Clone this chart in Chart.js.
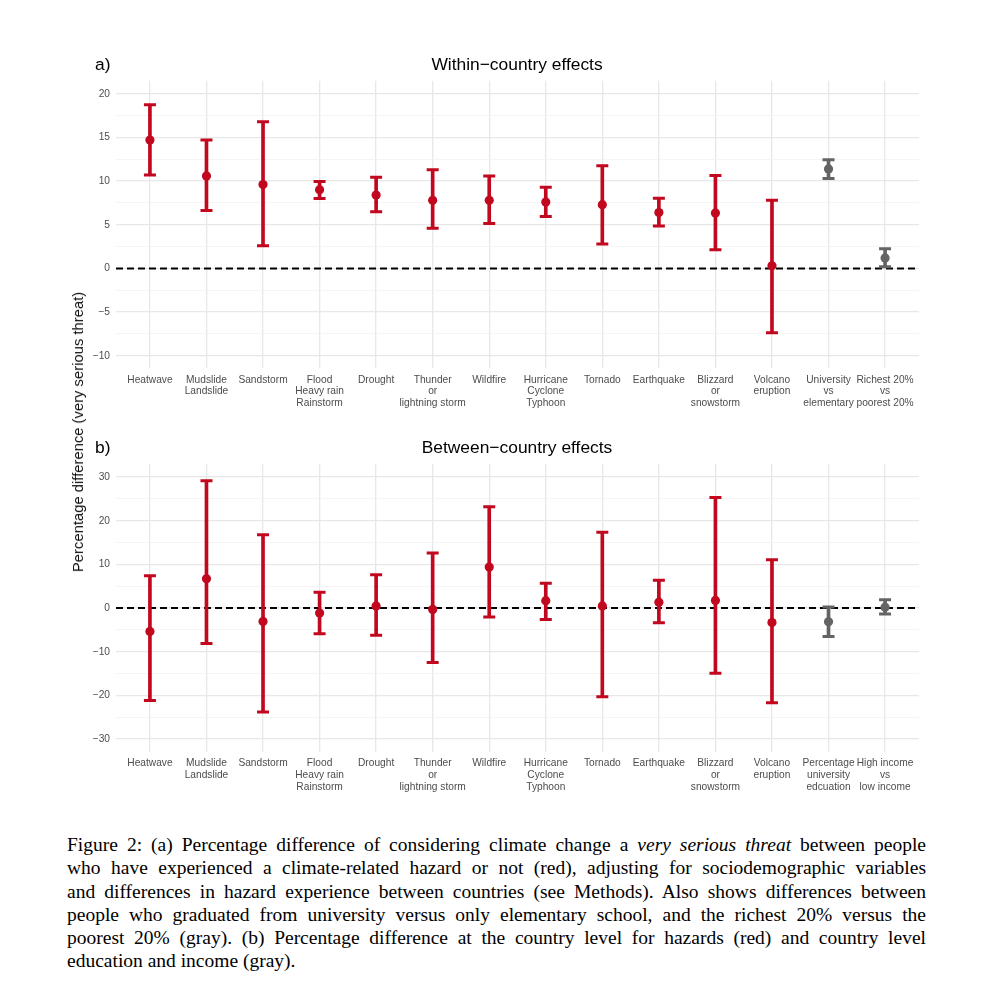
<!DOCTYPE html>
<html>
<head>
<meta charset="utf-8">
<script src="https://cdn.jsdelivr.net/npm/chart.js@4"></script>
<style>
  body { margin: 0; background: #fff; width: 990px; height: 1000px; position: relative; font-family: "Liberation Sans", Arial, sans-serif; }
  .box { position: absolute; left: 0; width: 990px; }
  #boxA { top: 0; height: 430px; }
  #boxB { top: 430px; height: 380px; }
  .tag, .ttl { position: absolute; font-size: 17.4px; color: #000; line-height: 17px; }
  .ttl { transform: translateX(-50%); white-space: nowrap; }
  #ylab { position: absolute; left: 78px; top: 432px; transform: translate(-50%, -50%) rotate(-90deg); font-size: 14.8px; white-space: nowrap; color: #111; }
  #caption { position: absolute; left: 67px; top: 833px; width: 859px; font-family: "Liberation Serif", "Times New Roman", serif; font-size: 19.5px; line-height: 23.3px; color: #000; }
  #caption span { display: block; text-align: justify; text-align-last: justify; }
  #caption span.last { text-align-last: left; }
</style>
</head>
<body>
<div class="box" id="boxA"><canvas id="chartA"></canvas></div>
<div class="box" id="boxB"><canvas id="chartB"></canvas></div>
<div class="tag" style="left:95px; top:56px;">a)</div>
<div class="ttl" style="left:517px; top:56px;">Within&#8722;country effects</div>
<div class="tag" style="left:95px; top:439px;">b)</div>
<div class="ttl" style="left:517px; top:439px;">Between&#8722;country effects</div>
<div id="ylab">Percentage difference (very serious threat)</div>
<div id="caption">
  <span>Figure 2: (a) Percentage difference of considering climate change a <i>very serious threat</i> between people</span>
  <span>who have experienced a climate-related hazard or not (red), adjusting for sociodemographic variables</span>
  <span>and differences in hazard experience between countries (see Methods). Also shows differences between</span>
  <span>people who graduated from university versus only elementary school, and the richest 20% versus the</span>
  <span>poorest 20% (gray). (b) Percentage difference at the country level for hazards (red) and country level</span>
  <span class="last">education and income (gray).</span>
</div>
<script>
// Categorías (etiquetas multilínea)
const hazards = [
    ['Heatwave'], ['Mudslide', 'Landslide'], ['Sandstorm'], ['Flood', 'Heavy rain', 'Rainstorm'],
    ['Drought'], ['Thunder', 'or', 'lightning storm'], ['Wildfire'], ['Hurricane', 'Cyclone', 'Typhoon'],
    ['Tornado'], ['Earthquake'], ['Blizzard', 'or', 'snowstorm'], ['Volcano', 'eruption']
];
const extrasA = [['University', 'vs', 'elementary'], ['Richest 20%', 'vs', 'poorest 20%']];
const extrasB = [['Percentage', 'university', 'edcuation'], ['High income', 'vs', 'low income']];
const catsA = hazards.concat(extrasA);
const catsB = hazards.concat(extrasB);

// a) Within-country effects
const estA  = [14.7, 10.6, 9.6, 9.0, 8.4, 7.8, 7.8, 7.6, 7.3, 6.4, 6.35, 0.3, 11.4, 1.2];
const lowA  = [10.7, 6.65, 2.6, 8.0, 6.5, 4.6, 5.15, 5.95, 2.8, 4.85, 2.15, -7.35, 10.3, 0.2];
const highA = [18.75, 14.7, 16.8, 9.95, 10.45, 11.3, 10.6, 9.3, 11.75, 8.05, 10.65, 7.8, 12.45, 2.25];

// b) Between-country effects
const estB  = [-5.35, 6.7, -3.05, -1.15, 0.5, -0.3, 9.4, 1.7, 0.5, 1.35, 1.75, -3.3, -3.15, 0.2];
const lowB  = [-21.2, -8.1, -23.8, -5.9, -6.2, -12.45, -2.05, -2.6, -20.3, -3.35, -14.95, -21.7, -6.5, -1.35];
const highB = [7.4, 29.15, 16.8, 3.6, 7.65, 12.6, 23.2, 5.7, 17.35, 6.35, 25.35, 11.05, 0.25, 1.9];

// Grupo: hazard (rojo) o educación/ingreso (gris)
const groups = ['h','h','h','h','h','h','h','h','h','h','h','h','g','g'];

const RED = '#c1081e';
const GRAY = '#646464';
const colorOf = g => g === 'h' ? RED : GRAY;
const minus = v => String(v).replace('-', '\u2212');

function buildChart(canvasId, cats, est, low, high, yMin, yMax, step, major, padTop, padBottom) {
    const colors = groups.map(colorOf);
    const n = cats.length;
    return new Chart(document.getElementById(canvasId), {
        type: 'scatter',
        data: {
            datasets: [
                {
                    type: 'line',
                    data: [{ x: -0.6, y: 0 }, { x: n - 0.4, y: 0 }],
                    borderColor: '#000',
                    borderWidth: 2,
                    borderDash: [7, 4],
                    pointRadius: 0,
                    order: 4
                },
                {
                    type: 'bar',
                    data: cats.map((c, i) => ({ x: i, y: [low[i], high[i]] })),
                    backgroundColor: colors,
                    borderWidth: 0,
                    barThickness: 3,
                    order: 3
                },
                {
                    // extremos del intervalo
                    data: cats.map((c, i) => ({ x: i, y: low[i] })).concat(cats.map((c, i) => ({ x: i, y: high[i] }))),
                    pointStyle: 'line',
                    pointRadius: 6,
                    borderWidth: 3,
                    borderColor: colors.concat(colors),
                    order: 2
                },
                {
                    data: cats.map((c, i) => ({ x: i, y: est[i] })),
                    pointStyle: 'circle',
                    pointRadius: 4.6,
                    borderWidth: 0,
                    backgroundColor: colors,
                    order: 1
                }
            ]
        },
        options: {
            responsive: true,
            maintainAspectRatio: false,
            animation: false,
            layout: { padding: { left: 76, right: 71, top: padTop, bottom: padBottom } },
            plugins: { legend: { display: false }, tooltip: { enabled: false } },
            scales: {
                x: {
                    type: 'linear',
                    min: -0.6,
                    max: n - 0.4,
                    offset: false,
                    border: { display: false },
                    grid: { offset: false, color: '#e8e8e8', lineWidth: 1.3, drawTicks: false },
                    afterFit: s => { s.height = 50; },
                    ticks: {
                        stepSize: 1,
                        includeBounds: false,
                        autoSkip: false,
                        maxRotation: 0,
                        padding: 6,
                        color: '#4d4d4d',
                        font: { family: 'Liberation Sans', size: 10.2, lineHeight: 1.15 },
                        callback: v => Number.isInteger(v) && cats[v] ? cats[v] : ''
                    }
                },
                y: {
                    min: yMin,
                    max: yMax,
                    border: { display: false },
                    grid: {
                        drawTicks: false,
                        color: ctx => ctx.tick && ctx.tick.value % major === 0 ? '#e8e8e8' : '#f1f1f1',
                        lineWidth: ctx => ctx.tick && ctx.tick.value % major === 0 ? 1.3 : 0.7
                    },
                    afterFit: s => { s.width = 40; },
                    ticks: {
                        stepSize: step,
                        includeBounds: false,
                        padding: 6,
                        color: '#4d4d4d',
                        font: { family: 'Liberation Sans', size: 10.2 },
                        callback: v => v % major === 0 ? minus(v) : ''
                    }
                }
            }
        }
    });
}

buildChart('chartA', catsA, estA, lowA, highA, -11.4, 21.5, 2.5, 5, 80.7, 12);
buildChart('chartB', catsB, estB, lowB, highB, -32.9, 33.0, 5, 10, 34, 8.3);
</script>
</body>
</html>
